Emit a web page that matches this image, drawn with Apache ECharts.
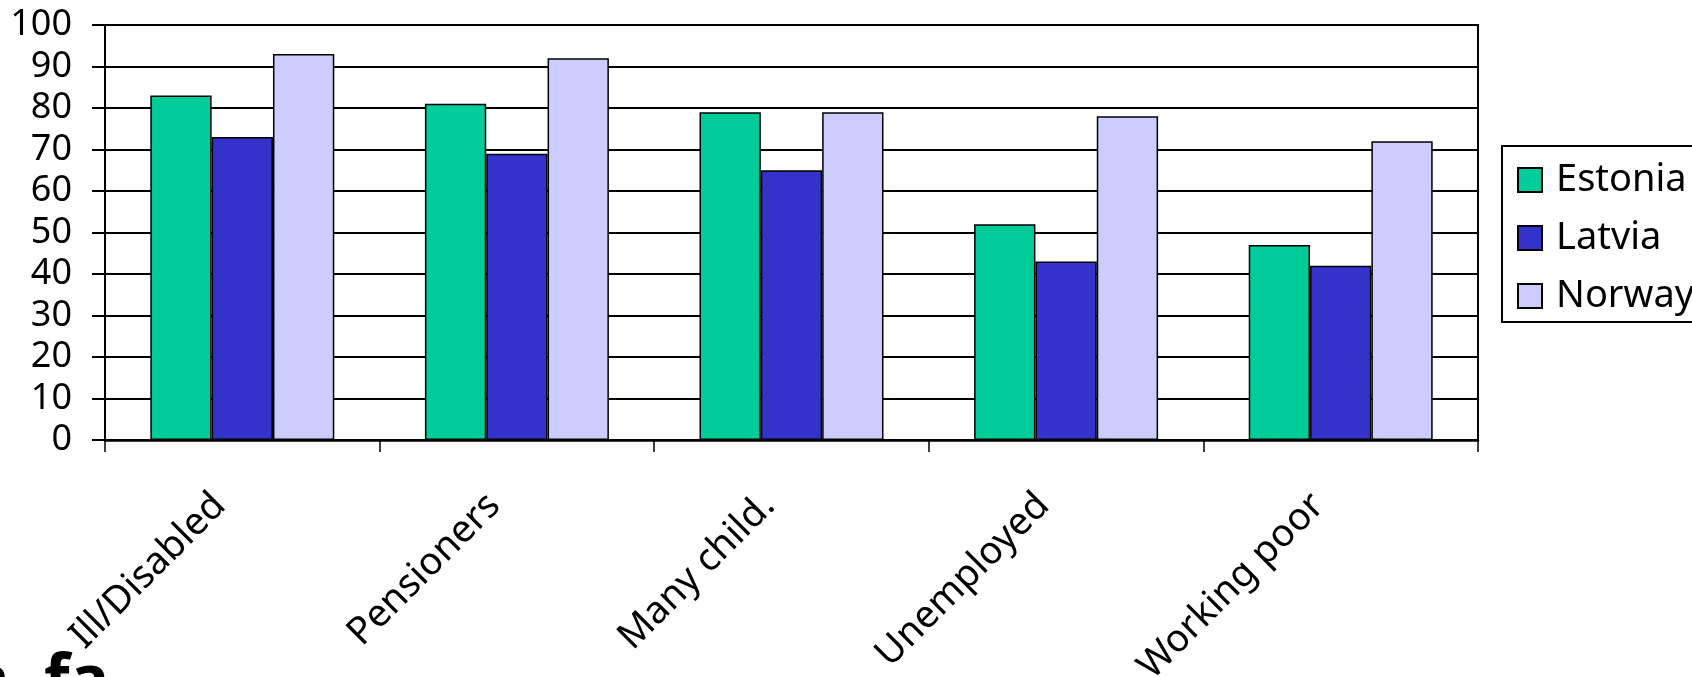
<!DOCTYPE html>
<html>
<head>
<meta charset="utf-8">
<script src="https://cdn.jsdelivr.net/npm/echarts@6/dist/echarts.min.js"></script>
<style>
  html, body { margin: 0; padding: 0; background: #fff; }
  #chart { width: 1692px; height: 677px; }
</style>
</head>
<body>
<div id="chart"></div>
<script>
// Groups and shares (%) per country
const categories = ['Ill/Disabled', 'Pensioners', 'Many child.', 'Unemployed', 'Working poor'];
const estonia = [83, 81, 79, 52, 47];
const latvia  = [73, 69, 65, 43, 42];
const norway  = [93, 92, 79, 78, 72];
const yTicks = { min: 0, max: 100, step: 10 };

const FONT = '"Noto Sans", "DejaVu Sans", sans-serif';
const chart = echarts.init(document.getElementById('chart'), null, { renderer: 'canvas' });

function barSeries(name, data, color) {
  return {
    name: name,
    type: 'bar',
    data: data,
    barGap: '0%',
    barCategoryGap: '33%',
    itemStyle: { color: color, borderColor: '#000', borderWidth: 1.5 },
    emphasis: { disabled: true }
  };
}

chart.setOption({
  animation: false,
  backgroundColor: '#fff',
  grid: {
    left: 105, right: 214, top: 25, bottom: 237,
    containLabel: false,
    outerBoundsMode: 'none',
    show: true, borderColor: '#000', borderWidth: 2, backgroundColor: '#fff'
  },
  legend: {
    orient: 'vertical',
    left: 1502, top: 146,
    data: ['Estonia', 'Latvia', 'Norway'],
    icon: 'rect',
    itemWidth: 24, itemHeight: 24,
    itemGap: 18,
    borderColor: '#000', borderWidth: 2,
    padding: [14, 4, 6, 15],
    textStyle: { fontFamily: FONT, fontSize: 38, color: '#000', lineHeight: 40, padding: [0, 0, 0, 9] }
  },
  xAxis: {
    type: 'category',
    data: categories,
    axisLine: { lineStyle: { color: '#000', width: 2.5 } },
    axisTick: { show: true, length: 12, lineStyle: { color: '#000', width: 1.5 } },
    axisLabel: {
      rotate: 45, interval: 0,
      margin: 37, padding: [0, 32, 0, 0],
      fontFamily: FONT, fontSize: 38, color: '#000'
    },
    splitLine: { show: false }
  },
  yAxis: {
    type: 'value',
    min: yTicks.min, max: yTicks.max, interval: yTicks.step,
    axisLine: { show: true, lineStyle: { color: '#000', width: 2 } },
    axisTick: { show: true, length: 13, lineStyle: { color: '#000', width: 2 } },
    axisLabel: { margin: 33, fontFamily: FONT, fontSize: 36, color: '#000' },
    splitLine: { show: true, lineStyle: { color: '#000', width: 2 } }
  },
  series: [
    barSeries('Estonia', estonia, '#00CC99'),
    barSeries('Latvia', latvia, '#3333CC'),
    barSeries('Norway', norway, '#CCCCFF')
  ],
  graphic: [
    { type: 'text', left: -30, top: 650, style: { text: 'a', font: 'bold 66px ' + FONT, fill: '#000' } },
    { type: 'text', left: 44, top: 650, style: { text: 'fa', font: 'bold 66px ' + FONT, fill: '#000' } }
  ]
});
</script>
</body>
</html>
